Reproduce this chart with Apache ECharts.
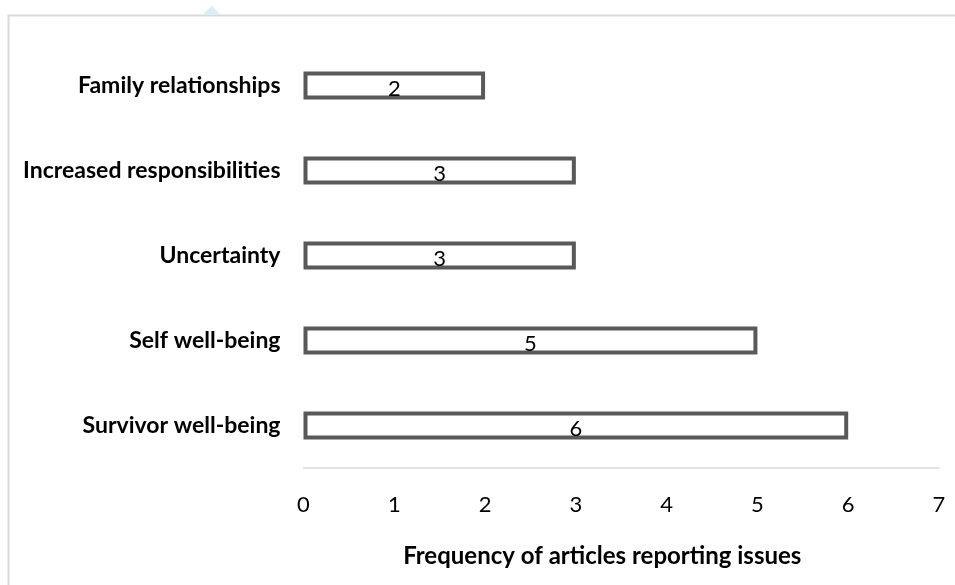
<!DOCTYPE html>
<html>
<head>
<meta charset="utf-8">
<script src="https://cdn.jsdelivr.net/npm/echarts@6/dist/echarts.min.js"></script>
<style>
  html, body { margin: 0; padding: 0; background: #fff; }
  #chart { width: 955px; height: 585px; }
</style>
</head>
<body>
<div id="chart"></div>
<script>
// Issues reported, listed bottom-to-top on the category axis
const categories = [
  'Survivor well-being',
  'Self well-being',
  'Uncertainty',
  'Increased responsibilities',
  'Family relationships'
];
const frequencies = [6, 5, 3, 3, 2];
const xTicks = [0, 1, 2, 3, 4, 5, 6, 7];
const xAxisTitle = 'Frequency of articles reporting issues';

const FONT = 'Lato, "Open Sans", sans-serif';

const chart = echarts.init(document.getElementById('chart'), null, { renderer: 'canvas' });

chart.setOption({
  animation: false,
  backgroundColor: '#ffffff',
  grid: { left: 303.5, right: 16, top: 43, bottom: 117, containLabel: false },
  xAxis: {
    type: 'value',
    min: xTicks[0],
    max: xTicks[xTicks.length - 1],
    interval: 1,
    name: xAxisTitle,
    nameLocation: 'middle',
    nameGap: 76,
    nameTextStyle: {
      fontFamily: FONT, fontWeight: 'bold', fontSize: 24, color: '#000',
      padding: [0, 38, 0, 0]
    },
    axisLine: { show: true, lineStyle: { color: '#d9d9d9', width: 1.5 } },
    axisTick: { show: false },
    splitLine: { show: false },
    axisLabel: { margin: 26, fontFamily: FONT, fontSize: 22, color: '#000' }
  },
  yAxis: {
    type: 'category',
    data: categories,
    axisLine: { show: false },
    axisTick: { show: false },
    splitLine: { show: false },
    axisLabel: { margin: 23, fontFamily: FONT, fontWeight: 'bold', fontSize: 23, color: '#000' }
  },
  series: [{
    type: 'bar',
    data: frequencies,
    barWidth: 28,
    itemStyle: { color: '#ffffff', borderColor: '#595959', borderWidth: 4 },
    label: {
      show: true,
      position: 'inside',
      offset: [0, 3],
      fontFamily: FONT,
      fontSize: 22,
      color: '#000'
    }
  }],
  graphic: [
    {
      type: 'rect',
      silent: true,
      shape: { x: 8.5, y: 15.5, width: 960, height: 600 },
      style: { fill: null, stroke: '#d9d9d9', lineWidth: 2 }
    },
    {
      type: 'polygon',
      silent: true,
      shape: { points: [[203, 14], [212, 6], [220, 14]] },
      style: { fill: '#d6eef9' }
    }
  ]
});
</script>
</body>
</html>
